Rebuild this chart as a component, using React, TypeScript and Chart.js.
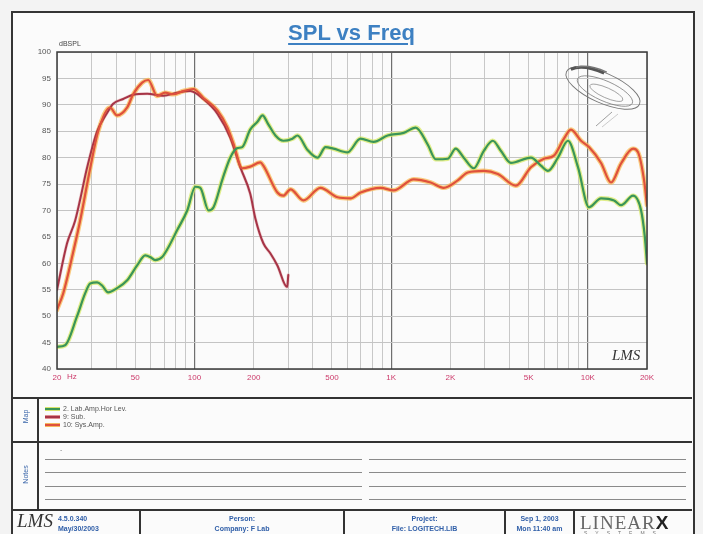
import React, { useEffect, useRef } from "react";
import { Chart, registerables } from "chart.js";

Chart.register(...registerables);

// ---- data (frequency in Hz, level in dB SPL) ----
const labFreq = [20, 22, 25.3, 27.8, 29.5, 32, 33.9, 36.4, 40.4, 45.5, 51.1, 56.2, 59.5, 63.1, 68.5, 73.6, 81.7, 91.9, 101, 107, 118, 125, 139, 152, 165, 175, 192, 209, 222, 235, 258, 283, 315, 334, 375, 422, 464, 509, 600, 699, 814, 960, 1158, 1333, 1534, 1685, 1940, 2130, 2340, 2632, 2960, 3288, 3612, 4062, 5136, 5776, 6270, 7050, 7926, 8914, 10140, 11676, 13600, 14760, 16990, 18666, 19500, 20000];
const labDb = [44.2, 44.5, 50, 54.3, 56.2, 56.4, 55.8, 54.5, 55.3, 56.8, 59.6, 61.5, 61.2, 60.6, 61.2, 63, 66.3, 70, 74.5, 74.3, 70, 70.6, 76, 80, 81.8, 82, 85.3, 86.8, 88, 86.6, 84.2, 83.2, 83.6, 84.2, 81.5, 80, 82, 81.7, 81, 83.6, 83, 84.2, 84.7, 85.7, 82.5, 79.7, 79.8, 81.7, 80, 78, 81.3, 83.2, 81.3, 79, 80, 78.5, 77.5, 80, 83.2, 78.2, 70.6, 72.3, 71.9, 71, 72.8, 70, 65, 60];

const subFreq = [20, 22.5, 24.7, 26.2, 28.4, 32, 36, 38.6, 43.4, 48.8, 57.5, 69.3, 81.7, 95.2, 111, 131, 152, 171, 192, 204, 224, 243, 264, 296, 300];
const subDb = [55, 63.8, 68, 72, 78, 85, 88.5, 90.2, 91.1, 91.9, 92.1, 91.7, 92.3, 92.6, 91.1, 88.3, 83.8, 78.2, 73.2, 68.5, 63.8, 61.9, 59.6, 55.5, 57.8];

const sysFreq = [20, 21.5, 24.1, 26.2, 29.5, 32.4, 37.2, 40.4, 45.5, 48.8, 54.2, 58.2, 64.6, 71, 78, 87.7, 98.6, 111, 131, 147, 158, 175, 192, 216, 224, 264, 283, 308, 358, 437, 534, 622, 699, 884, 1030, 1302, 1589, 1851, 2181, 2452, 2960, 3489, 4308, 5136, 5984, 6727, 7566, 8211, 9234, 10140, 11676, 13128, 14760, 16990, 18020, 19330, 20000];
const sysDb = [51.2, 54.3, 61.9, 68, 78, 85, 89.5, 88, 89.5, 92, 94.2, 94.7, 91.7, 92.3, 92, 92.6, 93, 91.3, 88.9, 85.7, 82.6, 78, 78.3, 79.1, 78.5, 73.4, 72.8, 74, 71.9, 74.3, 72.5, 72.3, 73.4, 74.3, 73.8, 75.9, 75.3, 74.3, 75.7, 77.2, 77.5, 76.9, 74.7, 78.2, 79.8, 80.4, 83.6, 85.3, 83.2, 82, 79, 75.3, 78.9, 81.7, 81, 75.7, 71];

const freqGridTicks = [20, 30, 40, 50, 60, 70, 80, 90, 100, 200, 300, 400, 500, 600, 700, 800, 900, 1000, 2000, 3000, 4000, 5000, 6000, 7000, 8000, 9000, 10000, 20000];
const freqLabels: Record<number, string> = { 20: "20", 50: "50", 100: "100", 200: "200", 500: "500", 1000: "1K", 2000: "2K", 5000: "5K", 10000: "10K", 20000: "20K" };
const majorFreqLines = [100, 1000, 10000];
const dbTicks = [40, 45, 50, 55, 60, 65, 70, 75, 80, 85, 90, 95, 100];

const seriesNames = ["2. Lab.Amp.Hor Lev.", "9: Sub.", "10: Sys.Amp."];

const toXY = (f: number[], d: number[]) => f.map((x, i) => ({ x, y: d[i] }));

const FONT = "'Liberation Sans', Arial, sans-serif";

export default function App() {
  const ref = useRef<HTMLCanvasElement>(null);

  useEffect(() => {
    const canvas = ref.current!;
    const borderPlugin = {
      id: "plotBorder",
      afterDraw(chart: any) {
        const { ctx, chartArea } = chart;
        const { left, top, right, bottom } = chartArea;
        ctx.save();
        ctx.strokeStyle = "#3a3a3a";
        ctx.lineWidth = 1.5;
        ctx.strokeRect(left, top, right - left, bottom - top);
        ctx.restore();
      },
    };
    const line = (data: any, color: string, width: number, order: number) => ({
      data,
      order,
      borderColor: color,
      borderWidth: width,
      pointRadius: 0,
      fill: false,
      cubicInterpolationMode: "monotone" as const,
      borderCapStyle: "round" as const,
      borderJoinStyle: "round" as const,
    });
    const lab = toXY(labFreq, labDb);
    const sub = toXY(subFreq, subDb);
    const sys = toXY(sysFreq, sysDb);
    const chart = new Chart(canvas, {
      type: "line",
      data: {
        datasets: [
          { label: seriesNames[0], ...line(lab, "#3a9558", 2.2, 1) },
          { label: seriesNames[2], ...line(sys, "#df513c", 2.2, 2) },
          { label: seriesNames[1], ...line(sub, "#a63447", 2, 3) },
          { label: "halo1", ...line(lab, "rgba(215,232,100,0.75)", 4.6, 10) },
          { label: "halo3", ...line(sys, "rgba(248,185,85,0.75)", 4.6, 11) },
          { label: "halo2", ...line(sub, "rgba(215,125,125,0.35)", 3.2, 12) },
        ],
      },
      options: {
        animation: false,
        responsive: false,
        events: [],
        layout: { padding: { top: 52, right: 56, left: 0, bottom: 0 } },
        plugins: { legend: { display: false }, tooltip: { enabled: false } },
        scales: {
          x: {
            type: "logarithmic",
            min: 20,
            max: 20000,
            afterBuildTicks: (s: any) => {
              s.ticks = freqGridTicks.map((v) => ({ value: v }));
            },
            afterFit: (s: any) => {
              s.height = 31;
            },
            ticks: {
              autoSkip: false,
              maxRotation: 0,
              minRotation: 0,
              padding: 4,
              color: "#cc3a6a",
              font: { size: 8, family: FONT },
              callback: (v: any) => freqLabels[Number(v)] ?? "",
            },
            grid: {
              drawTicks: false,
              color: (c: any) =>
                c.tick && majorFreqLines.includes(c.tick.value) ? "#6f6f6f" : "#c8c8c8",
              lineWidth: (c: any) =>
                c.tick && majorFreqLines.includes(c.tick.value) ? 1.2 : 1,
            },
            border: { display: false },
          },
          y: {
            min: 40,
            max: 100,
            afterBuildTicks: (s: any) => {
              s.ticks = dbTicks.map((v) => ({ value: v }));
            },
            afterFit: (s: any) => {
              s.width = 57;
            },
            ticks: {
              padding: 6,
              color: "#555",
              font: { size: 8, family: FONT },
              callback: (v: any) => String(v),
            },
            grid: { drawTicks: false, color: "#c4c4c4", lineWidth: 1 },
            border: { display: false },
          },
        },
      },
      plugins: [borderPlugin],
    });
    return () => chart.destroy();
  }, []);

  const abs = (s: React.CSSProperties): React.CSSProperties => ({ position: "absolute", ...s });
  const hLine = (y: number, x1: number, x2: number, c = "#333", w = 2) => (
    <div style={abs({ left: x1, top: y, width: x2 - x1, height: w, background: c })} />
  );
  const vLine = (x: number, y1: number, y2: number, c = "#333", w = 2) => (
    <div style={abs({ left: x, top: y1, width: w, height: y2 - y1, background: c })} />
  );
  const small: React.CSSProperties = { fontFamily: FONT, fontSize: 7, color: "#555", whiteSpace: "nowrap" };
  const foot: React.CSSProperties = { fontFamily: FONT, fontSize: 7, color: "#2f5ea8", fontWeight: "bold", whiteSpace: "nowrap", textAlign: "center", lineHeight: "10px" };

  return (
    <div style={abs({ left: 0, top: 0, width: 703, height: 534, overflow: "hidden", background: "#f3f3f3" })}>
      <div style={abs({ left: 12, top: 12, width: 681, height: 540, background: "#fbfbfb" })} />
      <canvas ref={ref} width={703} height={400} style={abs({ left: 0, top: 0, width: 703, height: 400 })} />
      {/* outer frame */}
      <div style={abs({ left: 11, top: 11, width: 680, height: 540, border: "2px solid #353535" })} />
      {/* title */}
      <div style={abs({ left: 0, top: 20, width: 703, textAlign: "center", fontFamily: FONT, fontSize: 22, fontWeight: "bold", color: "#3d80c2", textDecoration: "underline", textUnderlineOffset: 3 })}>
        SPL vs Freq
      </div>
      <div style={abs({ left: 59, top: 40, ...small, fontSize: 7, color: "#444" })}>dBSPL</div>
      <div style={abs({ left: 67, top: 372, fontFamily: FONT, fontSize: 8, color: "#cc3a6a" })}>Hz</div>
      {/* speaker sketch */}
      <svg width={703} height={400} style={abs({ left: 0, top: 0 })}>
        <g transform="rotate(24 603 88)" fill="none" stroke="#777">
          <ellipse cx={603} cy={88} rx={40} ry={15} strokeWidth={0.9} />
          <ellipse cx={606} cy={90} rx={30} ry={10} strokeWidth={0.7} />
          <ellipse cx={608} cy={91} rx={18} ry={5} strokeWidth={0.6} />
          <path d="M566 84 Q 575 74 598 74" stroke="#555" strokeWidth={3} />
          <path d="M570 80 Q 580 72 600 72" stroke="#777" strokeWidth={1.5} />
        </g>
        <path d="M612 112 L 596 126" stroke="#888" strokeWidth={0.8} />
        <path d="M618 114 L 602 127" stroke="#aaa" strokeWidth={0.6} />
      </svg>
      <div style={abs({ left: 612, top: 347, fontFamily: "'Liberation Serif', serif", fontStyle: "italic", fontSize: 15, color: "#333" })}>LMS</div>

      {/* lower panels */}
      {hLine(397, 12, 692)}
      {hLine(441, 12, 692)}
      {hLine(509, 12, 692)}
      {vLine(37, 398, 510)}
      <div style={abs({ left: 14, top: 413, width: 22, textAlign: "center", transform: "rotate(-90deg)", fontFamily: FONT, fontSize: 7, color: "#3a66aa" })}>Map</div>
      <div style={abs({ left: 12, top: 471, width: 26, textAlign: "center", transform: "rotate(-90deg)", fontFamily: FONT, fontSize: 7, color: "#3a66aa" })}>Notes</div>

      {/* legend */}
      {[
        { y: 405, c: "#3a9558", h: "#d8e46a" },
        { y: 413, c: "#a63447", h: "#e09090" },
        { y: 421, c: "#df513c", h: "#f4b860" },
      ].map((e, i) => (
        <React.Fragment key={i}>
          <div style={abs({ left: 45, top: e.y + 2, width: 15, height: 4, background: e.h })} />
          <div style={abs({ left: 45, top: e.y + 3, width: 15, height: 2, background: e.c })} />
          <div style={abs({ left: 63, top: e.y, ...small, lineHeight: "8px" })}>{seriesNames[i]}</div>
        </React.Fragment>
      ))}

      {/* notes lines */}
      <div style={abs({ left: 60, top: 446, ...small, color: "#888" })}>-</div>
      {[459, 472, 486, 499].map((y) => (
        <React.Fragment key={y}>
          {hLine(y, 45, 362, "#8a8a8a", 1)}
          {hLine(y, 369, 686, "#8a8a8a", 1)}
        </React.Fragment>
      ))}

      {/* footer */}
      {vLine(139, 510, 534)}
      {vLine(343, 510, 534)}
      {vLine(504, 510, 534)}
      {vLine(573, 510, 534)}
      <div style={abs({ left: 17, top: 510, fontFamily: "'Liberation Serif', serif", fontStyle: "italic", fontSize: 19, color: "#333" })}>LMS</div>
      <div style={abs({ left: 58, top: 514, ...foot, textAlign: "left" })}>4.5.0.340<br />May/30/2003</div>
      <div style={abs({ left: 141, top: 514, width: 202, ...foot })}>Person:<br />Company: F Lab</div>
      <div style={abs({ left: 345, top: 514, width: 159, ...foot })}>Project:<br />File: LOGITECH.LIB</div>
      <div style={abs({ left: 506, top: 514, width: 67, ...foot })}>Sep 1, 2003<br />Mon 11:40 am</div>
      <div style={abs({ left: 580, top: 512, fontFamily: "'Liberation Serif', serif", fontSize: 19, color: "#666", letterSpacing: 1, whiteSpace: "nowrap" })}>
        LINEAR<span style={{ color: "#222", fontFamily: FONT, fontWeight: "bold" }}>X</span>
      </div>
      <div style={abs({ left: 584, top: 530, fontFamily: FONT, fontSize: 5, color: "#777", letterSpacing: 8 })}>SYSTEMS</div>
    </div>
  );
}
